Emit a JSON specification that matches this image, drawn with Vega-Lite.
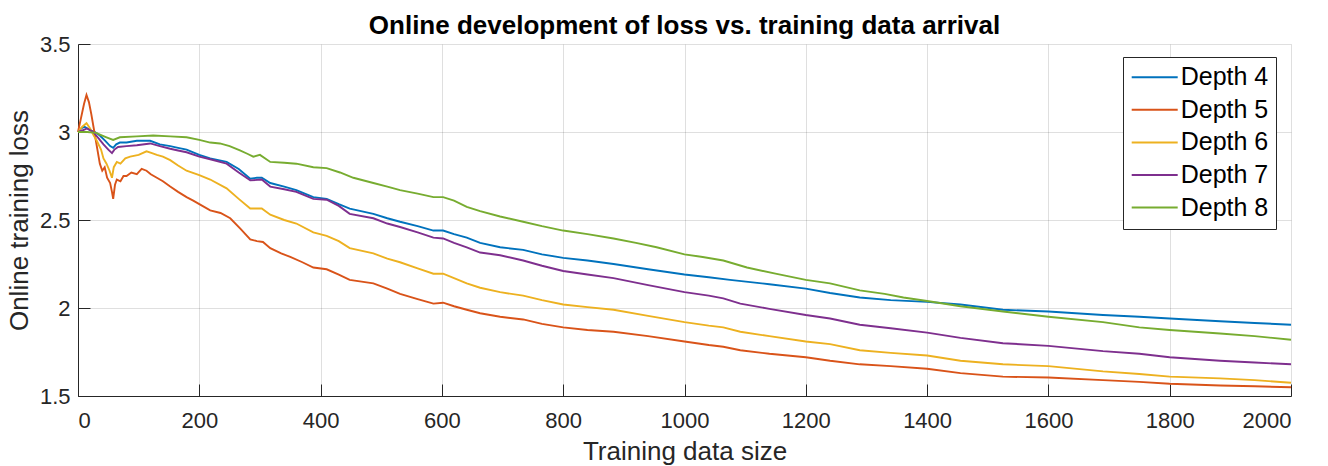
{
  "$schema": "https://vega.github.io/schema/vega-lite/v6.json",
  "width": 1213,
  "height": 352,
  "autosize": {"type": "none"},
  "padding": {"left": 78, "top": 44, "right": 37, "bottom": 70},
  "config": {
    "font": "Liberation Sans",
    "view": {"stroke": null},
    "axis": {
      "domainColor": "#262626",
      "tickColor": "#262626",
      "tickSize": -12,
      "labelColor": "#262626",
      "labelFontSize": 22,
      "labelFont": "Liberation Sans",
      "gridColor": "#262626",
      "gridOpacity": 0.15,
      "titleFont": "Liberation Sans",
      "titleFontSize": 26,
      "titleFontWeight": "normal",
      "titleColor": "#262626"
    }
  },
  "title": {
    "text": "Online development of loss vs. training data arrival",
    "fontSize": 26,
    "fontWeight": "bold",
    "font": "Liberation Sans",
    "color": "#000000",
    "anchor": "middle",
    "baseline": "alphabetic",
    "offset": 10,
    "dy": 37
  },
  "data": {
    "values": [
      {"d":"Depth 4","x":0,"y":3.0},{"d":"Depth 4","x":5,"y":3.02},{"d":"Depth 4","x":11,"y":3.03},{"d":"Depth 4","x":20,"y":3.01},{"d":"Depth 4","x":28,"y":3.0},{"d":"Depth 4","x":36,"y":2.98},{"d":"Depth 4","x":45,"y":2.95},{"d":"Depth 4","x":53,"y":2.92},{"d":"Depth 4","x":58,"y":2.91},{"d":"Depth 4","x":63,"y":2.93},{"d":"Depth 4","x":69,"y":2.94},{"d":"Depth 4","x":80,"y":2.94},{"d":"Depth 4","x":97,"y":2.95},{"d":"Depth 4","x":110,"y":2.95},{"d":"Depth 4","x":119,"y":2.95},{"d":"Depth 4","x":135,"y":2.93},{"d":"Depth 4","x":152,"y":2.92},{"d":"Depth 4","x":165,"y":2.91},{"d":"Depth 4","x":179,"y":2.9},{"d":"Depth 4","x":200,"y":2.87},{"d":"Depth 4","x":218,"y":2.85},{"d":"Depth 4","x":245,"y":2.83},{"d":"Depth 4","x":265,"y":2.79},{"d":"Depth 4","x":284,"y":2.735},{"d":"Depth 4","x":295,"y":2.74},{"d":"Depth 4","x":303,"y":2.74},{"d":"Depth 4","x":317,"y":2.71},{"d":"Depth 4","x":340,"y":2.69},{"d":"Depth 4","x":360,"y":2.67},{"d":"Depth 4","x":388,"y":2.63},{"d":"Depth 4","x":410,"y":2.62},{"d":"Depth 4","x":430,"y":2.59},{"d":"Depth 4","x":448,"y":2.565},{"d":"Depth 4","x":487,"y":2.535},{"d":"Depth 4","x":510,"y":2.51},{"d":"Depth 4","x":531,"y":2.49},{"d":"Depth 4","x":560,"y":2.465},{"d":"Depth 4","x":586,"y":2.44},{"d":"Depth 4","x":602,"y":2.44},{"d":"Depth 4","x":620,"y":2.42},{"d":"Depth 4","x":641,"y":2.4},{"d":"Depth 4","x":663,"y":2.37},{"d":"Depth 4","x":696,"y":2.345},{"d":"Depth 4","x":734,"y":2.33},{"d":"Depth 4","x":765,"y":2.305},{"d":"Depth 4","x":800,"y":2.285},{"d":"Depth 4","x":840,"y":2.27},{"d":"Depth 4","x":883,"y":2.25},{"d":"Depth 4","x":940,"y":2.22},{"d":"Depth 4","x":1000,"y":2.19},{"d":"Depth 4","x":1040,"y":2.175},{"d":"Depth 4","x":1075,"y":2.16},{"d":"Depth 4","x":1140,"y":2.135},{"d":"Depth 4","x":1200,"y":2.11},{"d":"Depth 4","x":1240,"y":2.085},{"d":"Depth 4","x":1289,"y":2.06},{"d":"Depth 4","x":1340,"y":2.045},{"d":"Depth 4","x":1400,"y":2.035},{"d":"Depth 4","x":1455,"y":2.02},{"d":"Depth 4","x":1525,"y":1.99},{"d":"Depth 4","x":1600,"y":1.98},{"d":"Depth 4","x":1690,"y":1.96},{"d":"Depth 4","x":1750,"y":1.95},{"d":"Depth 4","x":1800,"y":1.94},{"d":"Depth 4","x":1883,"y":1.925},{"d":"Depth 4","x":1940,"y":1.915},{"d":"Depth 4","x":2000,"y":1.905},
      {"d":"Depth 5","x":0,"y":3.0},{"d":"Depth 5","x":5,"y":3.08},{"d":"Depth 5","x":10,"y":3.16},{"d":"Depth 5","x":14,"y":3.21},{"d":"Depth 5","x":18,"y":3.17},{"d":"Depth 5","x":22,"y":3.1},{"d":"Depth 5","x":28,"y":2.98},{"d":"Depth 5","x":32,"y":2.9},{"d":"Depth 5","x":36,"y":2.82},{"d":"Depth 5","x":40,"y":2.78},{"d":"Depth 5","x":44,"y":2.8},{"d":"Depth 5","x":48,"y":2.74},{"d":"Depth 5","x":53,"y":2.71},{"d":"Depth 5","x":56,"y":2.66},{"d":"Depth 5","x":58,"y":2.62},{"d":"Depth 5","x":61,"y":2.7},{"d":"Depth 5","x":64,"y":2.73},{"d":"Depth 5","x":70,"y":2.72},{"d":"Depth 5","x":75,"y":2.75},{"d":"Depth 5","x":80,"y":2.75},{"d":"Depth 5","x":88,"y":2.77},{"d":"Depth 5","x":97,"y":2.76},{"d":"Depth 5","x":105,"y":2.79},{"d":"Depth 5","x":113,"y":2.78},{"d":"Depth 5","x":120,"y":2.76},{"d":"Depth 5","x":130,"y":2.74},{"d":"Depth 5","x":140,"y":2.72},{"d":"Depth 5","x":152,"y":2.69},{"d":"Depth 5","x":165,"y":2.66},{"d":"Depth 5","x":179,"y":2.63},{"d":"Depth 5","x":190,"y":2.61},{"d":"Depth 5","x":200,"y":2.59},{"d":"Depth 5","x":218,"y":2.555},{"d":"Depth 5","x":235,"y":2.54},{"d":"Depth 5","x":251,"y":2.51},{"d":"Depth 5","x":268,"y":2.45},{"d":"Depth 5","x":284,"y":2.39},{"d":"Depth 5","x":295,"y":2.38},{"d":"Depth 5","x":305,"y":2.375},{"d":"Depth 5","x":317,"y":2.34},{"d":"Depth 5","x":335,"y":2.31},{"d":"Depth 5","x":350,"y":2.29},{"d":"Depth 5","x":370,"y":2.26},{"d":"Depth 5","x":388,"y":2.23},{"d":"Depth 5","x":410,"y":2.22},{"d":"Depth 5","x":430,"y":2.19},{"d":"Depth 5","x":448,"y":2.16},{"d":"Depth 5","x":487,"y":2.14},{"d":"Depth 5","x":510,"y":2.11},{"d":"Depth 5","x":531,"y":2.08},{"d":"Depth 5","x":560,"y":2.05},{"d":"Depth 5","x":586,"y":2.025},{"d":"Depth 5","x":602,"y":2.03},{"d":"Depth 5","x":620,"y":2.01},{"d":"Depth 5","x":641,"y":1.99},{"d":"Depth 5","x":663,"y":1.97},{"d":"Depth 5","x":696,"y":1.95},{"d":"Depth 5","x":734,"y":1.935},{"d":"Depth 5","x":765,"y":1.91},{"d":"Depth 5","x":800,"y":1.89},{"d":"Depth 5","x":840,"y":1.875},{"d":"Depth 5","x":883,"y":1.865},{"d":"Depth 5","x":940,"y":1.84},{"d":"Depth 5","x":1000,"y":1.81},{"d":"Depth 5","x":1040,"y":1.79},{"d":"Depth 5","x":1064,"y":1.78},{"d":"Depth 5","x":1092,"y":1.76},{"d":"Depth 5","x":1140,"y":1.74},{"d":"Depth 5","x":1200,"y":1.72},{"d":"Depth 5","x":1240,"y":1.7},{"d":"Depth 5","x":1289,"y":1.68},{"d":"Depth 5","x":1340,"y":1.67},{"d":"Depth 5","x":1400,"y":1.655},{"d":"Depth 5","x":1455,"y":1.63},{"d":"Depth 5","x":1525,"y":1.61},{"d":"Depth 5","x":1600,"y":1.605},{"d":"Depth 5","x":1690,"y":1.59},{"d":"Depth 5","x":1750,"y":1.58},{"d":"Depth 5","x":1800,"y":1.57},{"d":"Depth 5","x":1883,"y":1.56},{"d":"Depth 5","x":1940,"y":1.555},{"d":"Depth 5","x":2000,"y":1.55},
      {"d":"Depth 6","x":0,"y":3.0},{"d":"Depth 6","x":7,"y":3.03},{"d":"Depth 6","x":14,"y":3.05},{"d":"Depth 6","x":20,"y":3.02},{"d":"Depth 6","x":26,"y":2.98},{"d":"Depth 6","x":31,"y":2.95},{"d":"Depth 6","x":38,"y":2.9},{"d":"Depth 6","x":42,"y":2.85},{"d":"Depth 6","x":47,"y":2.82},{"d":"Depth 6","x":52,"y":2.78},{"d":"Depth 6","x":56,"y":2.74},{"d":"Depth 6","x":59,"y":2.8},{"d":"Depth 6","x":64,"y":2.83},{"d":"Depth 6","x":70,"y":2.82},{"d":"Depth 6","x":78,"y":2.85},{"d":"Depth 6","x":86,"y":2.86},{"d":"Depth 6","x":100,"y":2.87},{"d":"Depth 6","x":113,"y":2.89},{"d":"Depth 6","x":122,"y":2.88},{"d":"Depth 6","x":130,"y":2.87},{"d":"Depth 6","x":140,"y":2.86},{"d":"Depth 6","x":152,"y":2.84},{"d":"Depth 6","x":165,"y":2.81},{"d":"Depth 6","x":179,"y":2.78},{"d":"Depth 6","x":200,"y":2.755},{"d":"Depth 6","x":218,"y":2.73},{"d":"Depth 6","x":245,"y":2.68},{"d":"Depth 6","x":265,"y":2.62},{"d":"Depth 6","x":284,"y":2.565},{"d":"Depth 6","x":303,"y":2.565},{"d":"Depth 6","x":317,"y":2.53},{"d":"Depth 6","x":340,"y":2.5},{"d":"Depth 6","x":360,"y":2.48},{"d":"Depth 6","x":388,"y":2.43},{"d":"Depth 6","x":410,"y":2.41},{"d":"Depth 6","x":430,"y":2.38},{"d":"Depth 6","x":448,"y":2.34},{"d":"Depth 6","x":487,"y":2.31},{"d":"Depth 6","x":510,"y":2.28},{"d":"Depth 6","x":531,"y":2.26},{"d":"Depth 6","x":560,"y":2.225},{"d":"Depth 6","x":586,"y":2.195},{"d":"Depth 6","x":602,"y":2.195},{"d":"Depth 6","x":620,"y":2.17},{"d":"Depth 6","x":641,"y":2.14},{"d":"Depth 6","x":663,"y":2.115},{"d":"Depth 6","x":696,"y":2.09},{"d":"Depth 6","x":734,"y":2.07},{"d":"Depth 6","x":765,"y":2.045},{"d":"Depth 6","x":800,"y":2.02},{"d":"Depth 6","x":840,"y":2.005},{"d":"Depth 6","x":883,"y":1.99},{"d":"Depth 6","x":940,"y":1.955},{"d":"Depth 6","x":1000,"y":1.92},{"d":"Depth 6","x":1040,"y":1.9},{"d":"Depth 6","x":1064,"y":1.89},{"d":"Depth 6","x":1092,"y":1.865},{"d":"Depth 6","x":1140,"y":1.84},{"d":"Depth 6","x":1200,"y":1.81},{"d":"Depth 6","x":1240,"y":1.795},{"d":"Depth 6","x":1289,"y":1.76},{"d":"Depth 6","x":1340,"y":1.745},{"d":"Depth 6","x":1400,"y":1.73},{"d":"Depth 6","x":1455,"y":1.7},{"d":"Depth 6","x":1525,"y":1.68},{"d":"Depth 6","x":1600,"y":1.67},{"d":"Depth 6","x":1690,"y":1.64},{"d":"Depth 6","x":1750,"y":1.625},{"d":"Depth 6","x":1800,"y":1.61},{"d":"Depth 6","x":1883,"y":1.6},{"d":"Depth 6","x":1940,"y":1.59},{"d":"Depth 6","x":2000,"y":1.575},
      {"d":"Depth 7","x":0,"y":3.0},{"d":"Depth 7","x":8,"y":3.01},{"d":"Depth 7","x":15,"y":3.02},{"d":"Depth 7","x":25,"y":3.0},{"d":"Depth 7","x":35,"y":2.96},{"d":"Depth 7","x":42,"y":2.93},{"d":"Depth 7","x":50,"y":2.9},{"d":"Depth 7","x":56,"y":2.88},{"d":"Depth 7","x":60,"y":2.9},{"d":"Depth 7","x":66,"y":2.915},{"d":"Depth 7","x":80,"y":2.92},{"d":"Depth 7","x":97,"y":2.925},{"d":"Depth 7","x":119,"y":2.935},{"d":"Depth 7","x":135,"y":2.92},{"d":"Depth 7","x":152,"y":2.905},{"d":"Depth 7","x":165,"y":2.895},{"d":"Depth 7","x":179,"y":2.885},{"d":"Depth 7","x":200,"y":2.86},{"d":"Depth 7","x":218,"y":2.845},{"d":"Depth 7","x":245,"y":2.82},{"d":"Depth 7","x":265,"y":2.77},{"d":"Depth 7","x":284,"y":2.725},{"d":"Depth 7","x":303,"y":2.73},{"d":"Depth 7","x":317,"y":2.69},{"d":"Depth 7","x":340,"y":2.675},{"d":"Depth 7","x":360,"y":2.66},{"d":"Depth 7","x":388,"y":2.62},{"d":"Depth 7","x":410,"y":2.615},{"d":"Depth 7","x":430,"y":2.58},{"d":"Depth 7","x":448,"y":2.535},{"d":"Depth 7","x":487,"y":2.51},{"d":"Depth 7","x":510,"y":2.48},{"d":"Depth 7","x":531,"y":2.46},{"d":"Depth 7","x":560,"y":2.43},{"d":"Depth 7","x":586,"y":2.4},{"d":"Depth 7","x":602,"y":2.395},{"d":"Depth 7","x":620,"y":2.37},{"d":"Depth 7","x":641,"y":2.345},{"d":"Depth 7","x":663,"y":2.315},{"d":"Depth 7","x":696,"y":2.3},{"d":"Depth 7","x":734,"y":2.27},{"d":"Depth 7","x":765,"y":2.24},{"d":"Depth 7","x":800,"y":2.21},{"d":"Depth 7","x":840,"y":2.19},{"d":"Depth 7","x":883,"y":2.17},{"d":"Depth 7","x":940,"y":2.13},{"d":"Depth 7","x":1000,"y":2.09},{"d":"Depth 7","x":1040,"y":2.07},{"d":"Depth 7","x":1064,"y":2.055},{"d":"Depth 7","x":1092,"y":2.025},{"d":"Depth 7","x":1140,"y":1.995},{"d":"Depth 7","x":1200,"y":1.96},{"d":"Depth 7","x":1240,"y":1.94},{"d":"Depth 7","x":1289,"y":1.905},{"d":"Depth 7","x":1340,"y":1.885},{"d":"Depth 7","x":1400,"y":1.86},{"d":"Depth 7","x":1455,"y":1.83},{"d":"Depth 7","x":1525,"y":1.8},{"d":"Depth 7","x":1600,"y":1.785},{"d":"Depth 7","x":1690,"y":1.755},{"d":"Depth 7","x":1750,"y":1.74},{"d":"Depth 7","x":1800,"y":1.72},{"d":"Depth 7","x":1883,"y":1.7},{"d":"Depth 7","x":1940,"y":1.69},{"d":"Depth 7","x":2000,"y":1.68},
      {"d":"Depth 8","x":0,"y":3.0},{"d":"Depth 8","x":15,"y":3.0},{"d":"Depth 8","x":30,"y":2.995},{"d":"Depth 8","x":40,"y":2.98},{"d":"Depth 8","x":47,"y":2.97},{"d":"Depth 8","x":58,"y":2.955},{"d":"Depth 8","x":69,"y":2.97},{"d":"Depth 8","x":97,"y":2.975},{"d":"Depth 8","x":124,"y":2.98},{"d":"Depth 8","x":152,"y":2.975},{"d":"Depth 8","x":179,"y":2.97},{"d":"Depth 8","x":200,"y":2.955},{"d":"Depth 8","x":218,"y":2.94},{"d":"Depth 8","x":234,"y":2.935},{"d":"Depth 8","x":250,"y":2.92},{"d":"Depth 8","x":267,"y":2.895},{"d":"Depth 8","x":280,"y":2.875},{"d":"Depth 8","x":289,"y":2.86},{"d":"Depth 8","x":300,"y":2.87},{"d":"Depth 8","x":317,"y":2.83},{"d":"Depth 8","x":340,"y":2.825},{"d":"Depth 8","x":360,"y":2.82},{"d":"Depth 8","x":388,"y":2.8},{"d":"Depth 8","x":410,"y":2.795},{"d":"Depth 8","x":432,"y":2.77},{"d":"Depth 8","x":454,"y":2.74},{"d":"Depth 8","x":487,"y":2.71},{"d":"Depth 8","x":510,"y":2.69},{"d":"Depth 8","x":531,"y":2.67},{"d":"Depth 8","x":560,"y":2.65},{"d":"Depth 8","x":586,"y":2.63},{"d":"Depth 8","x":602,"y":2.63},{"d":"Depth 8","x":620,"y":2.61},{"d":"Depth 8","x":641,"y":2.575},{"d":"Depth 8","x":663,"y":2.55},{"d":"Depth 8","x":696,"y":2.52},{"d":"Depth 8","x":734,"y":2.49},{"d":"Depth 8","x":765,"y":2.465},{"d":"Depth 8","x":800,"y":2.44},{"d":"Depth 8","x":840,"y":2.42},{"d":"Depth 8","x":883,"y":2.395},{"d":"Depth 8","x":920,"y":2.37},{"d":"Depth 8","x":954,"y":2.345},{"d":"Depth 8","x":1000,"y":2.305},{"d":"Depth 8","x":1030,"y":2.29},{"d":"Depth 8","x":1064,"y":2.27},{"d":"Depth 8","x":1103,"y":2.23},{"d":"Depth 8","x":1150,"y":2.195},{"d":"Depth 8","x":1200,"y":2.16},{"d":"Depth 8","x":1240,"y":2.14},{"d":"Depth 8","x":1289,"y":2.1},{"d":"Depth 8","x":1330,"y":2.08},{"d":"Depth 8","x":1361,"y":2.06},{"d":"Depth 8","x":1400,"y":2.04},{"d":"Depth 8","x":1455,"y":2.01},{"d":"Depth 8","x":1525,"y":1.98},{"d":"Depth 8","x":1600,"y":1.95},{"d":"Depth 8","x":1690,"y":1.92},{"d":"Depth 8","x":1750,"y":1.89},{"d":"Depth 8","x":1800,"y":1.875},{"d":"Depth 8","x":1883,"y":1.855},{"d":"Depth 8","x":1940,"y":1.84},{"d":"Depth 8","x":2000,"y":1.82}
    ]
  },
  "mark": {"type": "line", "strokeWidth": 1.9},
  "encoding": {
    "x": {
      "field": "x", "type": "quantitative",
      "scale": {"domain": [0, 2000], "nice": false, "zero": false},
      "axis": {
        "values": [0, 200, 400, 600, 800, 1000, 1200, 1400, 1600, 1800, 2000],
        "format": "d",
        "labelPadding": 43.4,
        "labelBaseline": "alphabetic",
        "title": "Training data size",
        "titleX": 606.5,
        "titleY": 63,
        "titleBaseline": "alphabetic"
      }
    },
    "y": {
      "field": "y", "type": "quantitative",
      "scale": {"domain": [1.5, 3.5], "nice": false, "zero": false},
      "axis": {
        "values": [1.5, 2, 2.5, 3, 3.5],
        "format": "~g",
        "labelPadding": 20,
        "title": "Online training loss",
        "titleX": -51,
        "titleY": 176,
        "titleBaseline": "alphabetic"
      }
    },
    "color": {
      "field": "d", "type": "nominal",
      "scale": {
        "domain": ["Depth 4", "Depth 5", "Depth 6", "Depth 7", "Depth 8"],
        "range": ["#0072BD", "#D95319", "#EDB120", "#7E2F8E", "#77AC30"]
      },
      "legend": {
        "title": null,
        "orient": "none",
        "legendX": 1045,
        "legendY": 13,
        "symbolType": "M-1,0L3,0",
        "symbolSize": 529,
        "symbolStrokeWidth": 2,
        "labelFontSize": 25,
        "labelFont": "Liberation Sans",
        "labelColor": "#000000",
        "labelOffset": 25,
        "rowPadding": 6.6,
        "padding": 7.7,
        "strokeColor": "#262626",
        "fillColor": "#ffffff",
        "cornerRadius": 0
      }
    }
  }
}
